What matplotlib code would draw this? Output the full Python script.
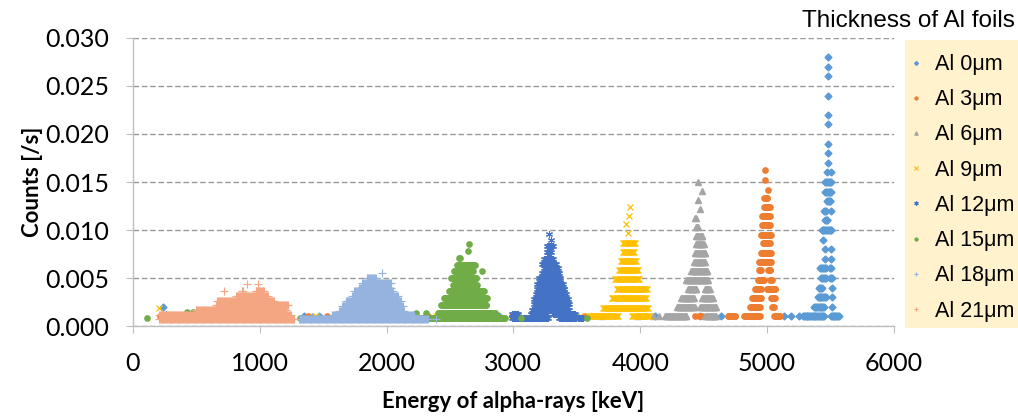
import numpy as np
import matplotlib.pyplot as plt
from matplotlib.patches import Rectangle

CHANNEL_KEV = 7  # spacing of channels inside a run of equal counts

# Each row: (count rate [/s], [(first channel keV, last channel keV), ...])
al0_rows = [
    (0.0280, [(5484, 5484)]),
    (0.0270, [(5484, 5484)]),
    (0.0260, [(5484, 5484)]),
    (0.0240, [(5484, 5484)]),
    (0.0220, [(5484, 5484)]),
    (0.0210, [(5484, 5484)]),
    (0.0190, [(5480, 5480)]),
    (0.0180, [(5480, 5480)]),
    (0.0170, [(5482, 5482)]),
    (0.0160, [(5470, 5470), (5505, 5505)]),
    (0.0150, [(5457, 5502)]),
    (0.0140, [(5457, 5507)]),
    (0.0130, [(5470, 5500)]),
    (0.0120, [(5447, 5463), (5505, 5505)]),
    (0.0110, [(5457, 5476)]),
    (0.0100, [(5431, 5507)]),
    (0.0090, [(5439, 5439)]),
    (0.0080, [(5460, 5460), (5505, 5505)]),
    (0.0070, [(5455, 5455), (5505, 5505)]),
    (0.0060, [(5421, 5462), (5499, 5507)]),
    (0.0050, [(5426, 5462), (5499, 5510)]),
    (0.0040, [(5413, 5436), (5510, 5510)]),
    (0.0030, [(5400, 5462), (5510, 5510)]),
    (0.0020, [(5373, 5450), (5510, 5510)]),
    (0.0010, [(5135, 5135), (5190, 5190), (5252, 5252), (5284, 5450), (5502, 5568)]),
]
al0_tail = [(235, 0.0020), (1350, 0.0010), (1470, 0.0010), (2890, 0.0010),
            (3490, 0.0010), (4120, 0.0010), (4475, 0.0010), (4640, 0.0010)]

al3_rows = [
    (0.0162, [(4981, 4981)]),
    (0.0152, [(4984, 4984)]),
    (0.0142, [(5005, 5005)]),
    (0.0133, [(4974, 5003)]),
    (0.0124, [(4979, 5021)]),
    (0.0115, [(4961, 5021)]),
    (0.0105, [(4961, 5021)]),
    (0.0095, [(4955, 5034)]),
    (0.0086, [(4966, 5021)]),
    (0.0076, [(4955, 5034)]),
    (0.0067, [(4940, 5034)]),
    (0.0058, [(4934, 4955), (5008, 5026)]),
    (0.0048, [(4929, 4976), (5026, 5040)]),
    (0.0039, [(4903, 4955), (5000, 5066)]),
    (0.0029, [(4882, 4955), (5032, 5061)]),
    (0.0020, [(4869, 4942), (5040, 5055)]),
    (0.0010, [(4690, 4750), (4820, 4942), (5053, 5100)]),
]
al3_tail = [(215, 0.0010), (1380, 0.0010), (1530, 0.0010), (2330, 0.0010),
            (2990, 0.0010), (3560, 0.0010), (4040, 0.0010), (4435, 0.0010),
            (4460, 0.0010), (4490, 0.0010)]

al6_rows = [
    (0.0150, [(4459, 4459)]),
    (0.0141, [(4485, 4485)]),
    (0.0131, [(4453, 4453)]),
    (0.0122, [(4472, 4472)]),
    (0.0113, [(4430, 4440)]),
    (0.0103, [(4440, 4456)]),
    (0.0094, [(4443, 4490)]),
    (0.0085, [(4443, 4503)]),
    (0.0076, [(4435, 4514)]),
    (0.0067, [(4427, 4509)]),
    (0.0057, [(4403, 4530)]),
    (0.0048, [(4361, 4535)]),
    (0.0039, [(4374, 4443), (4509, 4548)]),
    (0.0029, [(4322, 4422), (4487, 4574)]),
    (0.0020, [(4290, 4430), (4474, 4600)]),
    (0.0010, [(4198, 4364), (4514, 4600)]),
]
al6_tail = [(1410, 0.0010), (2460, 0.0010), (3050, 0.0010), (3700, 0.0010),
            (3985, 0.0010), (4100, 0.0010), (4150, 0.0010)]

al9_rows = [
    (0.0124, [(3920, 3920)]),
    (0.0115, [(3914, 3914)]),
    (0.0106, [(3888, 3888)]),
    (0.0097, [(3906, 3906)]),
    (0.0086, [(3864, 3959)]),
    (0.0077, [(3864, 3948)]),
    (0.0068, [(3846, 3967)]),
    (0.0058, [(3833, 3980)]),
    (0.0049, [(3801, 3993)]),
    (0.0039, [(3814, 4054)]),
    (0.0029, [(3775, 4046)]),
    (0.0019, [(3707, 4059)]),
    (0.0010, [(3596, 3822), (3938, 4072)]),
]
al9_tail = [(205, 0.0019), (1440, 0.0010), (2390, 0.0010), (2780, 0.0010),
            (3470, 0.0010), (3530, 0.0010)]

al12_rows = [
    (0.0096, [(3281, 3281)]),
    (0.0090, [(3299, 3299)]),
    (0.0083, [(3268, 3310)]),
    (0.0077, [(3262, 3297)]),
    (0.0070, [(3241, 3310)]),
    (0.0065, [(3223, 3336)]),
    (0.0060, [(3241, 3349)]),
    (0.0055, [(3228, 3362)]),
    (0.0050, [(3202, 3370)]),
    (0.0044, [(3189, 3389)]),
    (0.0039, [(3189, 3402)]),
    (0.0033, [(3176, 3415)]),
    (0.0028, [(3163, 3428)]),
    (0.0023, [(3163, 3441)]),
    (0.0017, [(3149, 3441)]),
    (0.0013, [(2992, 3034), (3136, 3262), (3315, 3486)]),
    (0.0008, [(2992, 3270), (3360, 3494), (3512, 3550)]),
]
al12_tail = [(260, 0.0013), (1490, 0.0008), (2470, 0.0008), (2840, 0.0008)]

al15_rows = [
    (0.0085, [(2650, 2650)]),
    (0.0078, [(2639, 2639)]),
    (0.0071, [(2570, 2580)]),
    (0.0064, [(2555, 2695)]),
    (0.0057, [(2529, 2681), (2750, 2750)]),
    (0.0050, [(2511, 2708)]),
    (0.0043, [(2521, 2713)]),
    (0.0036, [(2490, 2768)]),
    (0.0029, [(2450, 2794)]),
    (0.0022, [(2432, 2787)]),
    (0.0014, [(2311, 2311), (2405, 2858)]),
    (0.0008, [(2266, 2931)]),
]
al15_tail = [(108, 0.0008), (430, 0.0015), (470, 0.0015), (1320, 0.0008),
             (1400, 0.0008), (1560, 0.0008), (1900, 0.0008), (2230, 0.0014),
             (3060, 0.0008), (3580, 0.0008)]

al18_rows = [
    (0.0055, [(1966, 1966)]),
    (0.0050, [(1848, 1917)]),
    (0.0045, [(1809, 2035)]),
    (0.0040, [(1782, 2035)]),
    (0.0036, [(1743, 2048)]),
    (0.0031, [(1730, 2087)]),
    (0.0026, [(1677, 2114)]),
    (0.0021, [(1651, 2127)]),
    (0.0016, [(1625, 2140)]),
    (0.0011, [(1572, 2219)]),
    (0.0007, [(1309, 2324)]),
]
al18_tail = [(240, 0.0011), (300, 0.0007), (2390, 0.0007)]

al21_rows = [
    (0.0044, [(896, 896), (988, 988)]),
    (0.0036, [(720, 720), (860, 866), (967, 1036)]),
    (0.0031, [(810, 1062)]),
    (0.0026, [(665, 1115)]),
    (0.0022, [(652, 1220)]),
    (0.0017, [(494, 1207)]),
    (0.0011, [(205, 1246)]),
    (0.0007, [(205, 1272)]),
]
al21_tail = []

series_labels = ['Al 0\u03bcm', 'Al 3\u03bcm', 'Al 6\u03bcm', 'Al 9\u03bcm',
                 'Al 12\u03bcm', 'Al 15\u03bcm', 'Al 18\u03bcm', 'Al 21\u03bcm']
series_rows = [al0_rows, al3_rows, al6_rows, al9_rows,
               al12_rows, al15_rows, al18_rows, al21_rows]
series_tails = [al0_tail, al3_tail, al6_tail, al9_tail,
                al12_tail, al15_tail, al18_tail, al21_tail]

colors = ['#5B9BD5', '#ED7D31', '#A5A5A5', '#FFC000',
          '#4472C4', '#70AD47', '#95B3DE', '#F4A582']
markers = ['D', 'o', '^', 'x', (6, 2, 0), 'o', '+', '+']
sizes = [3.5, 3.8, 4.3, 4.5, 5, 3.8, 5.5, 5.5]
widths = [1.0, 1.0, 1.0, 0.9, 0.8, 1.0, 0.8, 0.8]


def expand(rows, tail):
    energy, counts = [], []
    for rate, runs in rows:
        for lo, hi in runs:
            n = int(round((hi - lo) / CHANNEL_KEV)) + 1
            ch = np.linspace(lo, hi, n)
            energy.extend(ch)
            counts.extend([rate] * n)
    for e, c in tail:
        energy.append(e)
        counts.append(c)
    return np.array(energy), np.array(counts)


plt.rcParams['font.family'] = ['Lato', 'DejaVu Sans']

fig = plt.figure(figsize=(10.18, 4.16), dpi=100)
ax = fig.add_axes([0.1306, 0.2163, 0.7475, 0.6924])

for i in range(len(series_rows)):
    e, c = expand(series_rows[i], series_tails[i])
    ax.plot(e, c, linestyle='none', marker=markers[i], ms=sizes[i],
            color=colors[i], mec=colors[i], mew=widths[i], label=series_labels[i])

ax.set_xlim(0, 6000)
ax.set_ylim(0, 0.030)
ax.set_xticks(np.arange(0, 6001, 1000))
ax.set_yticks(np.arange(0, 0.0301, 0.005))
ax.yaxis.set_major_formatter(plt.FormatStrFormatter('%.3f'))

ax.grid(axis='y', color='#999999', linestyle=(0, (4, 2)), linewidth=1.0)
ax.set_axisbelow(True)
for s in ['top', 'right']:
    ax.spines[s].set_visible(False)
for s in ['left', 'bottom']:
    ax.spines[s].set_color('#BFBFBF')
    ax.spines[s].set_linewidth(1.0)
ax.tick_params(axis='both', direction='out', length=5, color='#BFBFBF',
               labelsize=18, labelcolor='black')
ax.tick_params(axis='y', pad=12)
ax.tick_params(axis='x', pad=14)

ax.set_xlabel('Energy of alpha-rays [keV]', fontsize=16, fontweight='bold')
ax.set_ylabel('Counts [/s]', fontsize=16, fontweight='bold')
ax.xaxis.set_label_coords(0.5, -0.225)
ax.yaxis.set_label_coords(-0.118, 0.5)

# legend panel on the right
fig.patches.append(Rectangle((0.889, 0.2115), 0.111, 0.6925, transform=fig.transFigure,
                             facecolor='#FFF2CC', edgecolor='none', zorder=0))
leg_handles = []
for i in range(len(series_labels)):
    lh, = ax.plot([], [], linestyle='none', marker=markers[i], ms=sizes[i] * 0.6,
                  color=colors[i], mec=colors[i], mew=0.8)
    leg_handles.append(lh)
fig.legend(leg_handles, series_labels, loc='upper left', bbox_to_anchor=(0.895, 0.87),
           frameon=False, prop={'family': 'Liberation Sans', 'size': 15.5},
           handlelength=0.5, handletextpad=0.6, labelspacing=0.66, borderaxespad=0,
           borderpad=0)
fig.text(0.997, 0.95, 'Thickness of Al foils', ha='right', va='center',
         fontsize=17.5, family='Liberation Sans')

fig.savefig('out.png', dpi=100)
